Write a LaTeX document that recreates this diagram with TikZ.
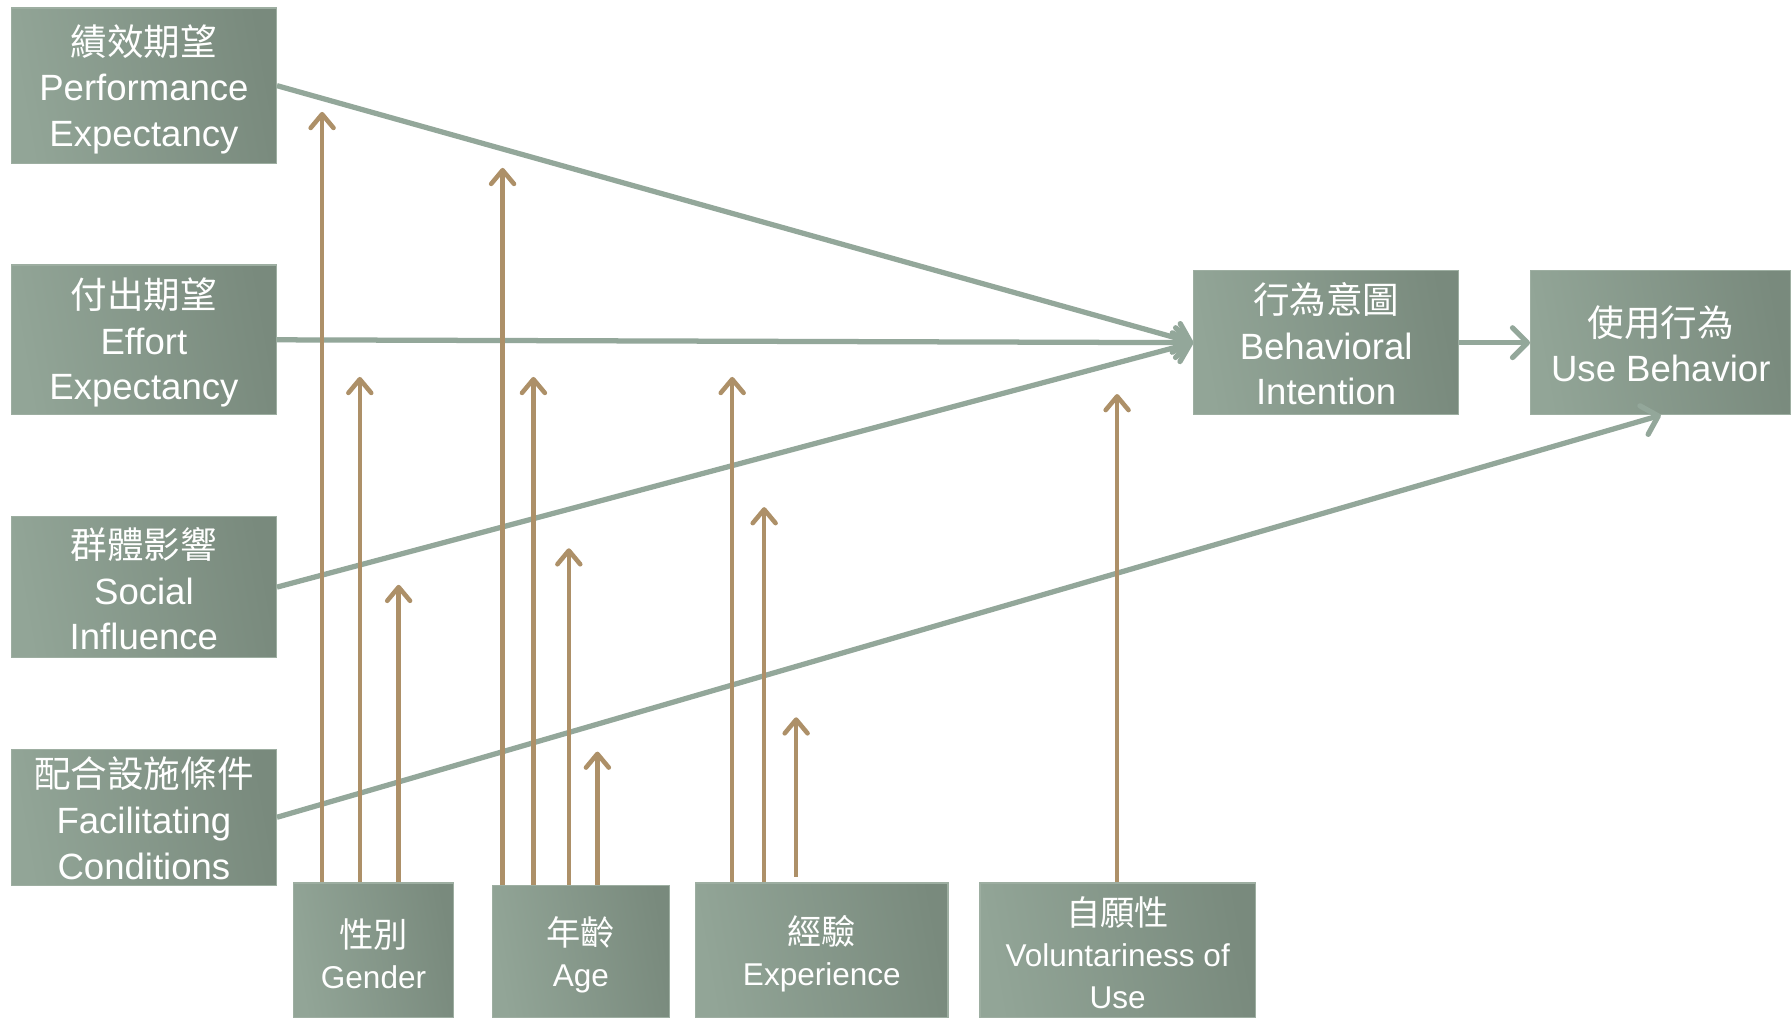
\documentclass[tikz,border=0pt]{standalone}
\usepackage{fontspec}
\setmainfont{Liberation Sans}
\newfontfamily\cjk{Noto Sans CJK TC}
\usetikzlibrary{arrows.meta}
\definecolor{boxA}{HTML}{92A597}
\definecolor{boxB}{HTML}{798A7D}
\definecolor{boxE}{HTML}{9DAEA1}
\definecolor{gline}{HTML}{93A79A}
\definecolor{bline}{HTML}{AD9068}
\tikzset{
  cbox/.style={shade, shading=axis, left color=boxA, right color=boxB, shading angle=100,
    draw=boxE, line width=1pt, inner sep=0pt},
  txt/.style={text=white, align=center, inner sep=0pt},
  bigtxt/.style={txt, font=\fontsize{32}{40}\selectfont},
  smalltxt/.style={txt, font=\fontsize{27.6}{36}\selectfont},
  garrow/.style={draw=gline, line width=4.6pt, -{Straight Barb[length=13pt,width=26pt,round]}},
  barrow/.style={draw=bline, line width=4pt, -{Straight Barb[length=12pt,width=20pt,round]}},
}
\newcommand{\bigcjk}[1]{{\cjk #1}}
\newcommand{\smcjk}[1]{{\cjk\fontsize{30}{36}\selectfont #1}}
\begin{document}
\begin{tikzpicture}[x=1pt,y=-1pt]
\useasboundingbox (0,0) rectangle (1568,891);
\fill[white] (0,0) rectangle (1568,891);
% left boxes
\node[cbox,minimum width=232pt,minimum height=136pt] (PE) at (126,75) {};
\node[cbox,minimum width=232pt,minimum height=131pt] (EE) at (126,297.5) {};
\node[cbox,minimum width=232pt,minimum height=124pt] (SI) at (126,514) {};
\node[cbox,minimum width=232pt,minimum height=119pt] (FC) at (126,715.5) {};
% right boxes
\node[cbox,minimum width=232pt,minimum height=126pt] (BI) at (1161,300) {};
\node[cbox,minimum width=228pt,minimum height=126pt] (UB) at (1454,300) {};
% bottom boxes
\node[cbox,minimum width=140pt,minimum height=118pt] (GE) at (327,832) {};
\node[cbox,minimum width=155pt,minimum height=116pt] (AG) at (508.5,833) {};
\node[cbox,minimum width=221pt,minimum height=118pt] (EX) at (719.5,832) {};
\node[cbox,minimum width=241pt,minimum height=118pt] (VO) at (978.5,832) {};
% texts
\node[bigtxt] (tPE) at ([yshift=-3pt]PE.center) {\bigcjk{績效期望}\\Performance\\Expectancy};
\node[bigtxt] (tEE) at ([yshift=-2.5pt]EE.center) {\bigcjk{付出期望}\\Effort\\Expectancy};
\node[bigtxt] (tSI) at ([yshift=-1.5pt]SI.center) {\bigcjk{群體影響}\\Social\\Influence};
\node[bigtxt] (tFC) at ([yshift=-1pt]FC.center) {\bigcjk{配合設施條件}\\Facilitating\\Conditions};
\node[bigtxt] (tBI) at ([yshift=-1pt]BI.center) {\bigcjk{行為意圖}\\Behavioral\\Intention};
\node[bigtxt] (tUB) at ([yshift=-1pt]UB.center) {\bigcjk{使用行為}\\Use Behavior};
\node[smalltxt] (tGE) at ([yshift=-3pt]GE.center) {\smcjk{性別}\\Gender};
\node[smalltxt] (tAG) at ([yshift=-3pt]AG.center) {\smcjk{年齡}\\Age};
\node[smalltxt] (tEX) at ([yshift=-3pt]EX.center) {\smcjk{經驗}\\Experience};
\node[smalltxt] (tVO) at ([yshift=-2pt]VO.center) {\smcjk{自願性}\\Voluntariness of\\Use};
% main paths
\draw[garrow] (PE.east) -- (BI.west);
\draw[garrow] (EE.east) -- (BI.west);
\draw[garrow] (SI.east) -- (BI.west);
\draw[garrow] (BI.east) -- (UB.west);
\draw[garrow] (FC.east) -- (UB.south);
% moderator tips
\coordinate (g1) at (282,98);
\coordinate (g2) at (315,330);
\coordinate (g3) at (349,512);
\coordinate (a1) at (440,147);
\coordinate (a2) at (467,330);
\coordinate (a3) at (498,480);
\coordinate (a4) at (523,658);
\coordinate (e1) at (641,330);
\coordinate (e2) at (669,444);
\coordinate (e3) at (697,628);
\coordinate (v1) at (978,345);
\draw[barrow] (g1 |- GE.north) -- (g1);
\draw[barrow] (g2 |- GE.north) -- (g2);
\draw[barrow] (g3 |- GE.north) -- (g3);
\draw[barrow] (a1 |- AG.north) -- (a1);
\draw[barrow] (a2 |- AG.north) -- (a2);
\draw[barrow] (a3 |- AG.north) -- (a3);
\draw[barrow] (a4 |- AG.north) -- (a4);
\draw[barrow] (e1 |- EX.north) -- (e1);
\draw[barrow] (e2 |- EX.north) -- (e2);
\draw[barrow] ([yshift=5pt]e3 |- EX.north) -- (e3);
\draw[barrow] (v1 |- VO.north) -- (v1);
\end{tikzpicture}
\end{document}
